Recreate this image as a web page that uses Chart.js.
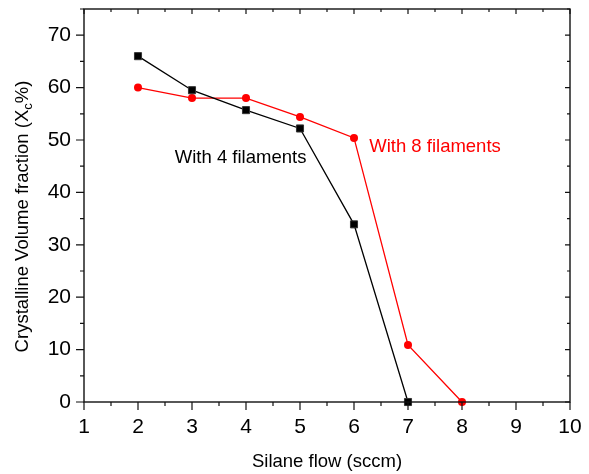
<!DOCTYPE html>
<html>
<head>
<meta charset="utf-8">
<script src="https://cdn.jsdelivr.net/npm/chart.js@4.4.1/dist/chart.umd.min.js"></script>
<style>
  html, body { margin: 0; padding: 0; background: #fff; }
  #wrap { width: 589px; height: 474px; }
</style>
</head>
<body>
<div id="wrap"><canvas id="xc-chart"></canvas></div>
<script>
// silane flow (sccm)
const flow4 = [2, 3, 4, 5, 6, 7];
const xc4 = [66.0, 59.5, 55.7, 52.2, 33.9, 0];
const flow8 = [2, 3, 4, 5, 6, 7, 8];
const xc8 = [60.0, 58.0, 58.0, 54.4, 50.4, 10.9, 0];

// in-plot text labels, placed in data units
const labelText = ["With 4 filaments", "With 8 filaments"];
const labelX = [3.9, 7.5];
const labelY = [46.5, 48.6];
const labelColor = ["#000000", "#ff0000"];

const font = "'Liberation Sans', Arial, sans-serif";

const toPoints = (xs, ys) => xs.map((x, i) => ({ x: x, y: ys[i] }));

// frame, outward/inward ticks, axis titles and labels
const decorations = {
  id: "decorations",
  afterDatasetsDraw(chart) {
    const ctx = chart.ctx;
    const a = chart.chartArea;
    const xs = chart.scales.x;
    const ys = chart.scales.y;
    ctx.save();
    ctx.strokeStyle = "#111";
    ctx.lineWidth = 1.4;
    ctx.strokeRect(a.left, a.top, a.right - a.left, a.bottom - a.top);

    ctx.beginPath();
    for (let v = 1; v <= 10; v += 0.5) {
      const px = xs.getPixelForValue(v);
      const major = v % 1 === 0;
      ctx.moveTo(px, a.bottom);
      ctx.lineTo(px, a.bottom + (major ? 8 : 4));
      ctx.moveTo(px, a.top);
      ctx.lineTo(px, a.top + (major ? 5 : 3));
    }
    for (let v = 0; v <= 75; v += 5) {
      const py = ys.getPixelForValue(v);
      const major = v % 10 === 0;
      ctx.moveTo(a.left, py);
      ctx.lineTo(a.left - (major ? 8 : 4), py);
      ctx.moveTo(a.right, py);
      ctx.lineTo(a.right - (major ? 5 : 3), py);
    }
    ctx.lineWidth = 1.2;
    ctx.stroke();

    // in-plot labels
    ctx.font = "18.5px " + font;
    ctx.textAlign = "center";
    ctx.textBaseline = "middle";
    labelText.forEach((t, i) => {
      ctx.fillStyle = labelColor[i];
      ctx.fillText(t, xs.getPixelForValue(labelX[i]), ys.getPixelForValue(labelY[i]));
    });

    // x title
    ctx.fillStyle = "#000";
    ctx.font = "18.5px " + font;
    ctx.fillText("Silane flow (sccm)", 327, 462);

    // y title with subscript
    const p1 = "Crystalline Volume fraction (X";
    const sub = "c";
    const p2 = "%)";
    ctx.font = "18.5px " + font;
    const w1 = ctx.measureText(p1).width;
    const w3 = ctx.measureText(p2).width;
    ctx.font = "13px " + font;
    const w2 = ctx.measureText(sub).width;
    const total = w1 + w2 + w3;
    ctx.translate(28, 216.5);
    ctx.rotate(-Math.PI / 2);
    ctx.textAlign = "left";
    ctx.textBaseline = "alphabetic";
    let x0 = -total / 2;
    ctx.font = "18.5px " + font;
    ctx.fillText(p1, x0, 0);
    ctx.font = "13px " + font;
    ctx.fillText(sub, x0 + w1, 4);
    ctx.font = "18.5px " + font;
    ctx.fillText(p2, x0 + w1 + w2, 0);
    ctx.restore();
  }
};

const config = {
  type: "line",
  data: {
    datasets: [
      {
        label: "With 4 filaments",
        data: toPoints(flow4, xc4),
        borderColor: "#000000",
        backgroundColor: "#000000",
        borderWidth: 1.3,
        pointStyle: "rect",
        pointRadius: 5,
        pointBorderColor: "#333",
        pointBorderWidth: 1,
        tension: 0,
        clip: false
      },
      {
        label: "With 8 filaments",
        data: toPoints(flow8, xc8),
        borderColor: "#ff0000",
        backgroundColor: "#ff0000",
        borderWidth: 1.3,
        pointStyle: "circle",
        pointRadius: 4,
        pointBorderWidth: 0,
        tension: 0,
        clip: false
      }
    ]
  },
  options: {
    responsive: true,
    maintainAspectRatio: false,
    animation: false,
    layout: { padding: { left: 0, right: 19, top: 9, bottom: 0 } },
    plugins: {
      legend: { display: false },
      tooltip: { enabled: false }
    },
    scales: {
      x: {
        type: "linear",
        min: 1,
        max: 10,
        grid: { display: false, drawTicks: false },
        border: { display: false },
        ticks: {
          stepSize: 1,
          padding: 13,
          color: "#000",
          font: { family: font, size: 21 }
        },
        afterFit: (s) => { s.height = 72; s.paddingLeft = 0; s.paddingRight = 0; }
      },
      y: {
        min: 0,
        max: 75,
        grid: { display: false, drawTicks: false },
        border: { display: false },
        ticks: {
          stepSize: 10,
          padding: 13,
          color: "#000",
          font: { family: font, size: 21 }
        },
        afterBuildTicks: (s) => { s.ticks = s.ticks.filter(t => t.value % 10 === 0); },
        afterFit: (s) => { s.width = 84; s.paddingTop = 0; s.paddingBottom = 0; }
      }
    }
  },
  plugins: [decorations]
};

new Chart(document.getElementById("xc-chart"), config);
</script>
</body>
</html>
